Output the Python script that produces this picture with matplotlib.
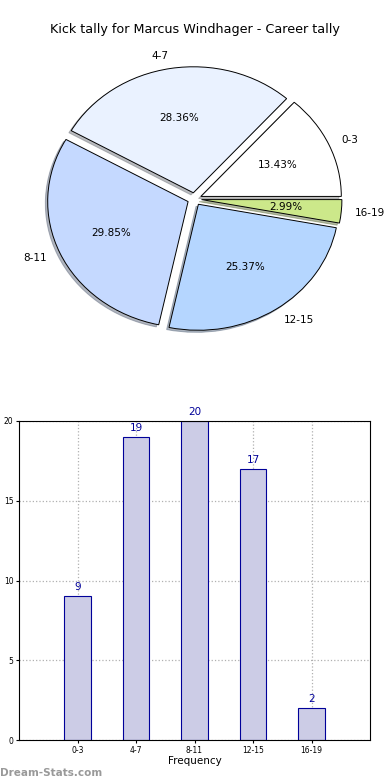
import matplotlib
matplotlib.use('Agg')
import matplotlib.pyplot as plt

# Kick tally data
groups = ['0-3', '4-7', '8-11', '12-15', '16-19']
counts = [9, 19, 20, 17, 2]
pie_colors = ['#ffffff', '#eaf2ff', '#c5d9ff', '#b5d6ff', '#cce88a']
explode = [0.05, 0.05, 0.05, 0.05, 0.05]

fig = plt.figure(figsize=(3.9, 7.8), dpi=100)

# pie (old-style, not forced to equal aspect)
ax1 = fig.add_axes([19 / 390, 423.5 / 780, 351 / 390, 315 / 780])
wedges, texts, autotexts = ax1.pie(counts, labels=groups, colors=pie_colors,
                                   explode=explode, autopct='%1.2f%%',
                                   shadow={'ox': -0.012, 'oy': -0.012, 'shade': 0.5},
                                   startangle=0, labeldistance=1.1, pctdistance=0.6,
                                   wedgeprops={'linewidth': 0.7, 'edgecolor': 'black'},
                                   textprops={'fontsize': 7.5})
ax1.set_aspect('auto')
ax1.set_xlim(-1.25, 1.25)
ax1.set_ylim(-1.25, 1.25)
ax1.set_title('Kick tally for Marcus Windhager - Career tally', fontsize=9.2, pad=6)

# bar chart
ax2 = fig.add_axes([19 / 390, 40 / 780, 351 / 390, 319 / 780])
xs = list(range(len(groups)))
ax2.bar(xs, counts, width=0.45, color='#ccccE6', edgecolor='#000099', linewidth=0.8, zorder=2)
for x, c in zip(xs, counts):
    ax2.text(x, c + 0.25, str(c), ha='center', va='bottom', color='#000099', fontsize=7.5)
ax2.set_xlim(-1, 5)
ax2.set_ylim(0, 20)
ax2.set_xticks(xs)
ax2.set_xticklabels(groups)
ax2.set_yticks([0, 5, 10, 15, 20])
ax2.tick_params(labelsize=5.5, length=2, pad=2)
ax2.grid(True, linestyle=':', color='#b0b0b0', linewidth=0.9, zorder=0)
ax2.set_axisbelow(True)
ax2.set_xlabel('Frequency', fontsize=7.5, labelpad=1)
ax2.set_ylabel('Stat Intervals', fontsize=7.5, labelpad=2)

fig.text(0.0, 0.005, 'Dream-Stats.com', color='#999999', fontsize=7.5, fontweight='bold')

plt.savefig('out.png', dpi=100)
